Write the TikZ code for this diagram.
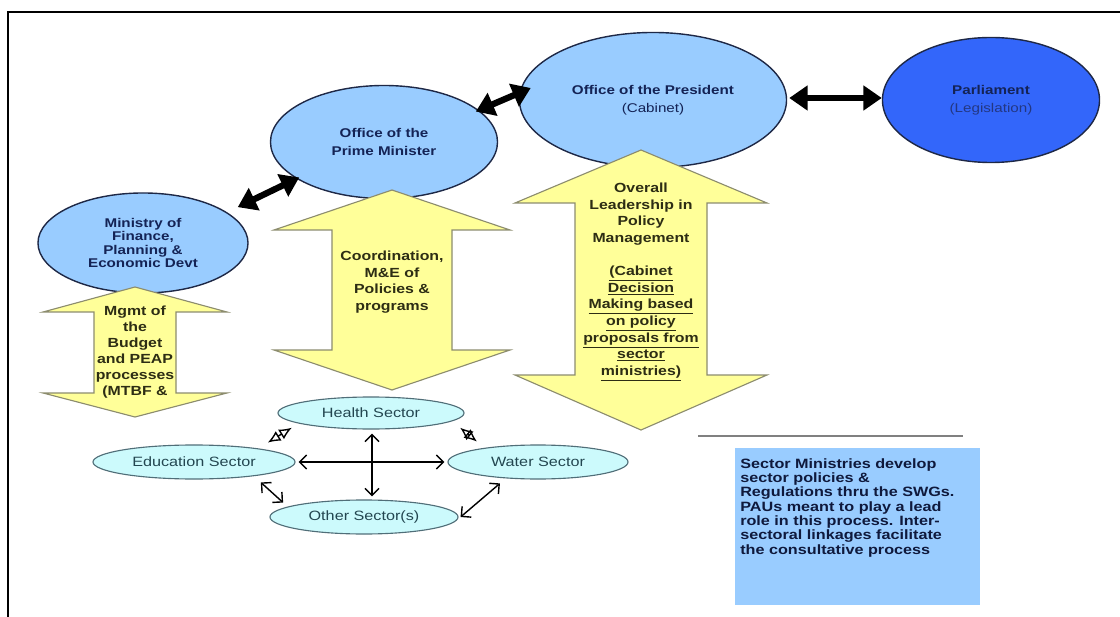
\documentclass[tikz,border=0pt]{standalone}
\usepackage{fontspec}
\setmainfont[FakeStretch=1.2]{Liberation Sans}
\usetikzlibrary{shapes.geometric,arrows.meta,calc}
\definecolor{officeblue}{RGB}{153,204,255}
\definecolor{parlblue}{RGB}{51,102,250}
\definecolor{officeline}{RGB}{30,40,70}
\definecolor{officetext}{RGB}{20,35,85}
\definecolor{legtext}{RGB}{35,55,130}
\definecolor{beamfill}{RGB}{255,255,153}
\definecolor{beamline}{RGB}{140,140,110}
\definecolor{beamtext}{RGB}{45,45,20}
\definecolor{sectorfill}{RGB}{204,250,252}
\definecolor{sectorline}{RGB}{80,110,120}
\definecolor{sectortext}{RGB}{35,70,80}
\definecolor{notefill}{RGB}{153,204,255}
\definecolor{notetext}{RGB}{15,25,60}
\tikzset{
  frame/.style={line width=1.4pt,black},
  office/.style={ellipse,draw=officeline,fill=officeblue,line width=1pt,inner sep=0pt,
    text=officetext,align=center,font=\bfseries\fontsize{9}{13}\selectfont},
  thicklink/.style={line width=4.5pt,
    {Triangle[width=17pt,length=13pt]}-{Triangle[width=17pt,length=13pt]}},
  beam/.style={fill=beamfill,draw=beamline,line width=0.8pt},
  beamlabel/.style={text=beamtext,align=center,font=\bfseries\fontsize{9.4}{11.8}\selectfont},
  sector/.style={ellipse,draw=sectorline,fill=sectorfill,line width=0.8pt,inner sep=0pt,
    text=sectortext,font=\fontsize{9.6}{11}\selectfont},
  sectorlink/.style={line width=1pt,
    {Straight Barb[length=5pt,width=10pt]}-{Straight Barb[length=5pt,width=10pt]}},
  hollowlink/.style={line width=1pt,
    {Latex[open,length=9pt,width=8pt]}-{Latex[open,length=9pt,width=8pt]}},
  notebox/.style={fill=notefill,minimum width=61.25mm,minimum height=39.25mm,inner sep=0pt},
  notelabel/.style={text=notetext,align=left,inner sep=0pt,
    font=\bfseries\fontsize{9.6}{10.2}\selectfont}
}
\begin{document}
\begin{tikzpicture}[x=0.025cm,y=-0.025cm]
\useasboundingbox (0,0) rectangle (1120,617);
\draw[frame] (1120,12) to (8,12) to (8,617);

% offices
\node[office,minimum width=52.5mm,minimum height=25mm,
  font=\bfseries\fontsize{9}{9.5}\selectfont] (mofped) at (143,243) {Ministry of\\Finance,\\Planning \&\\Economic Devt};
\node[office,minimum width=56.75mm,minimum height=28.25mm] (opm) at (384,142) {Office of the\\Prime Minister};
\node[office,minimum width=66.75mm,minimum height=33.75mm] (op) at (653,100) {Office of the President\\{\mdseries(Cabinet)}};
\node[office,fill=parlblue,minimum width=54.25mm,minimum height=31.25mm] (parl) at (991,100)
  {Parliament\\{\mdseries\color{legtext}(Legislation)}};

\draw[thicklink] ($(mofped.north east)+(20,0)$) to ($(opm.south west)+(-4,-5)$);
\draw[thicklink] ($(opm.north east)+(11,10)$) to ($(op.west)+(12,-12)$);
\draw[thicklink] ($(op.east)+(2,-2)$) to ($(parl.west)+(0,-2)$);

% yellow beams
\draw[beam] (135,287) to (227,312) to (176,312) to (176,393) to (227,393) to (135,417)
  to (43,393) to (94,393) to (94,312) to (43,312) to cycle;
\draw[beam] (392,190) to (510,230) to (452,230) to (452,350) to (510,350) to (392,390)
  to (274,350) to (332,350) to (332,230) to (274,230) to cycle;
\draw[beam] (641,150) to (767,203) to (707,203) to (707,375) to (767,375) to (641,430)
  to (515,375) to (575,375) to (575,203) to (515,203) to cycle;
\node[beamlabel,font=\bfseries\fontsize{9.4}{11.3}\selectfont] (mgmt) at (135,352)
  {Mgmt of\\the\\Budget\\and PEAP\\processes\\(MTBF \&};
\node[beamlabel] (coord) at (392,282) {Coordination,\\M\&E of\\Policies \&\\programs};
\node[beamlabel] (lead) at (641,282) {Overall\\Leadership in\\Policy\\Management\\[11.8pt]
  \underline{(Cabinet}\\\underline{Decision}\\\underline{Making based}\\\underline{on policy}\\
  \underline{proposals from}\\\underline{sector}\\\underline{ministries)}};

% sectors
\node[sector,minimum width=46.5mm,minimum height=8mm] (health) at (371,413) {Health Sector};
\node[sector,minimum width=50.5mm,minimum height=8.5mm] (edu) at (194,462) {Education Sector};
\node[sector,minimum width=45mm,minimum height=8.5mm] (water) at (538,462) {Water Sector};
\node[sector,minimum width=47mm,minimum height=8.5mm] (other) at (364,517) {Other Sector(s)};

\draw[hollowlink] ($(edu.north east)+(2,-7)$) to ($(health.south west)+(-13,3)$);
\draw[hollowlink] ($(health.south east)+(23,3)$) to ($(water.north west)+(3,-8)$);
\draw[sectorlink] ($(edu.south east)+(-5,8)$) to ($(other.north west)+(-14,-2)$);
\draw[sectorlink] ($(water.south west)+(26,9)$) to ($(other.east)+(2,0)$);
\draw[sectorlink,shorten <=0.75mm,shorten >=0.75mm] (edu.east) to (water.west);
\draw[sectorlink] ($(health.south)+(1,4)$) to ($(health.south |- other.north)+(1,-3)$);

% note
\draw[gray,line width=1.2pt] (698,436) to (963,436);
\node[notebox,anchor=north west] (note) at (735,448) {};
\node[notelabel,anchor=north west] (notetxt) at ($(note.north west)+(5,10)$)
  {Sector Ministries develop\\sector policies \&\\Regulations thru the SWGs.\\PAUs meant to play a lead\\
   role in this process. Inter-\\sectoral linkages facilitate\\the consultative process};
\end{tikzpicture}
\end{document}
